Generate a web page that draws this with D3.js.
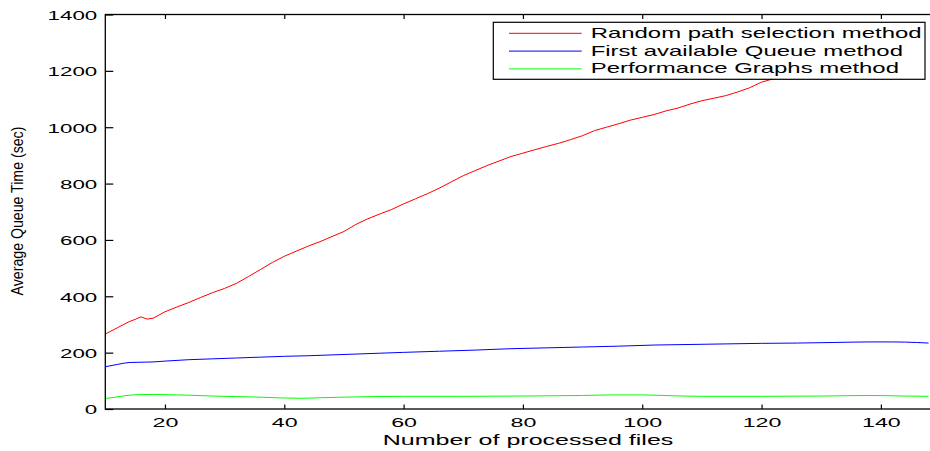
<!DOCTYPE html>
<html>
<head>
<meta charset="utf-8">
<script src="https://cdn.jsdelivr.net/npm/d3@7"></script>
<style>
  html, body { margin: 0; padding: 0; background: #fff; }
  svg { display: block; }
  text { font-family: "Liberation Sans", Arial, Helvetica, sans-serif; fill: #000; }
</style>
</head>
<body>
<svg id="chart" width="930" height="451"></svg>
<script>
// Average queue time per method, sampled against number of processed files
const randomX = [10,12,14,15,16,17,18,20,22,24,26,28,30,32,34,36,38,40,42,44,46,48,50,52,54,56,58,60,62,64,66,68,70,72,74,76,78,80,82,84,86,88,90,92,94,96,98,100,102,104,106,108,110,112,114,116,118,120,122,124,126,128,130,134,138,142,146];
const randomY = [266,288,310,318,327,319,322,345,362,378,396,413,428,446,470,495,520,542,560,578,594,612,630,655,675,692,708,728,746,764,784,806,828,846,864,880,896,908,920,932,943,956,970,988,1000,1012,1025,1035,1045,1058,1068,1082,1094,1103,1112,1125,1140,1160,1172,1188,1203,1218,1233,1258,1283,1308,1328];

const firstX = [10,12,14,16,18,20,24,28,32,36,40,44,48,52,56,60,66,72,78,84,90,96,102,108,114,120,126,132,138,142,146,148];
const firstY = [150,158,165,166,167,170,175,178,181,184,187,189,192,195,198,201,205,209,214,217,220,223,227,229,231,233,234,236,238,238,236,234];

const perfX = [10,12,14,16,18,20,24,28,32,36,40,43,46,50,55,60,70,80,90,95,100,105,110,120,130,138,144,148];
const perfY = [37,43,49,51,52,51,49,46,44,42,39,38,40,42,44,45,45,46,48,50,50,47,45,45,46,48,46,45];

const seriesNames = ["Random path selection method", "First available Queue method", "Performance Graphs method"];
const seriesColors = ["#ff0000", "#0000ff", "#00ff00"];

const xTicks = [20, 40, 60, 80, 100, 120, 140];
const yTicks = [0, 200, 400, 600, 800, 1000, 1200, 1400];
const xTitle = "Number of processed files";
const yTitle = "Average Queue Time (sec)";

// Plot frame
const plotLeft = 105.3, plotTop = 14.5, plotBottom = 409;
const x = d3.scaleLinear().domain([10, 150]).range([plotLeft, plotLeft + 140 * 5.966]);
const y = d3.scaleLinear().domain([0, 1400]).range([plotBottom, plotTop]);
const SX = 1.72; // horizontal glyph stretch of the labels
const fmt = d3.format("d");

const svg = d3.select("#chart");

function zip(xs, ys) { return xs.map((v, i) => [v, ys[i]]); }
const series = [zip(randomX, randomY), zip(firstX, firstY), zip(perfX, perfY)];

const lineLinear = d3.line().x(d => x(d[0])).y(d => y(d[1]));
const lineSmooth = d3.line().x(d => x(d[0])).y(d => y(d[1])).curve(d3.curveMonotoneX);

series.forEach((s, i) => {
  svg.append("path")
    .attr("d", i === 0 ? lineLinear(s) : lineSmooth(s))
    .attr("fill", "none")
    .attr("stroke", seriesColors[i])
    .attr("stroke-width", 1);
});

// Axes: inward ticks, box outline
const axisStyle = g => {
  g.select(".domain").remove();
  g.selectAll(".tick line").attr("stroke", "#000").attr("stroke-width", 1.2);
};

svg.append("g")
  .attr("transform", `translate(${plotLeft},0)`)
  .call(d3.axisLeft(y).tickValues(yTicks).tickFormat(fmt).tickSizeInner(-8).tickSizeOuter(0))
  .call(axisStyle)
  .call(g => g.selectAll(".tick text")
    .attr("x", null).attr("dy", null).attr("y", null)
    .attr("text-anchor", "end")
    .attr("font-size", 13)
    .attr("transform", `translate(-8,4.8) scale(${SX},1)`));

svg.append("g")
  .attr("transform", `translate(0,${plotBottom})`)
  .call(d3.axisBottom(x).tickValues(xTicks).tickFormat(fmt).tickSizeInner(-4.5).tickSizeOuter(0))
  .call(axisStyle)
  .call(g => g.selectAll(".tick text")
    .attr("x", null).attr("dy", null).attr("y", null)
    .attr("text-anchor", "middle")
    .attr("font-size", 13.5)
    .attr("transform", `translate(0,18.3) scale(${SX},1)`));

svg.append("g")
  .attr("transform", `translate(0,${plotTop})`)
  .call(d3.axisTop(x).tickValues(xTicks).tickSizeInner(-4.5).tickSizeOuter(0).tickFormat(""))
  .call(axisStyle);

svg.append("rect")
  .attr("x", plotLeft).attr("y", plotTop)
  .attr("width", x.range()[1] - plotLeft).attr("height", plotBottom - plotTop)
  .attr("fill", "none").attr("stroke", "#000").attr("stroke-width", 1.3);

// Axis titles
svg.append("text")
  .attr("text-anchor", "middle")
  .attr("font-size", 15)
  .attr("transform", `translate(528,445) scale(1.67,1)`)
  .text(xTitle);

svg.append("text")
  .attr("text-anchor", "middle")
  .attr("font-size", 14.6)
  .attr("transform", "translate(23,211) rotate(-90) scale(0.97,1.12)")
  .text(yTitle);

// Legend
const lg = svg.append("g");
lg.append("rect")
  .attr("x", 493.3).attr("y", 22.3).attr("width", 431.7).attr("height", 57)
  .attr("fill", "#fff").attr("stroke", "#000").attr("stroke-width", 1.2);

seriesNames.forEach((name, i) => {
  const by = 37.7 + i * 17.8;
  lg.append("line")
    .attr("x1", 509).attr("x2", 581.7)
    .attr("y1", by - 4.4).attr("y2", by - 4.4)
    .attr("stroke", seriesColors[i]).attr("stroke-width", 1);
  lg.append("text")
    .attr("font-size", 14.5)
    .attr("transform", `translate(590.7,${by}) scale(1.65,1)`)
    .text(name);
});
</script>
</body>
</html>
